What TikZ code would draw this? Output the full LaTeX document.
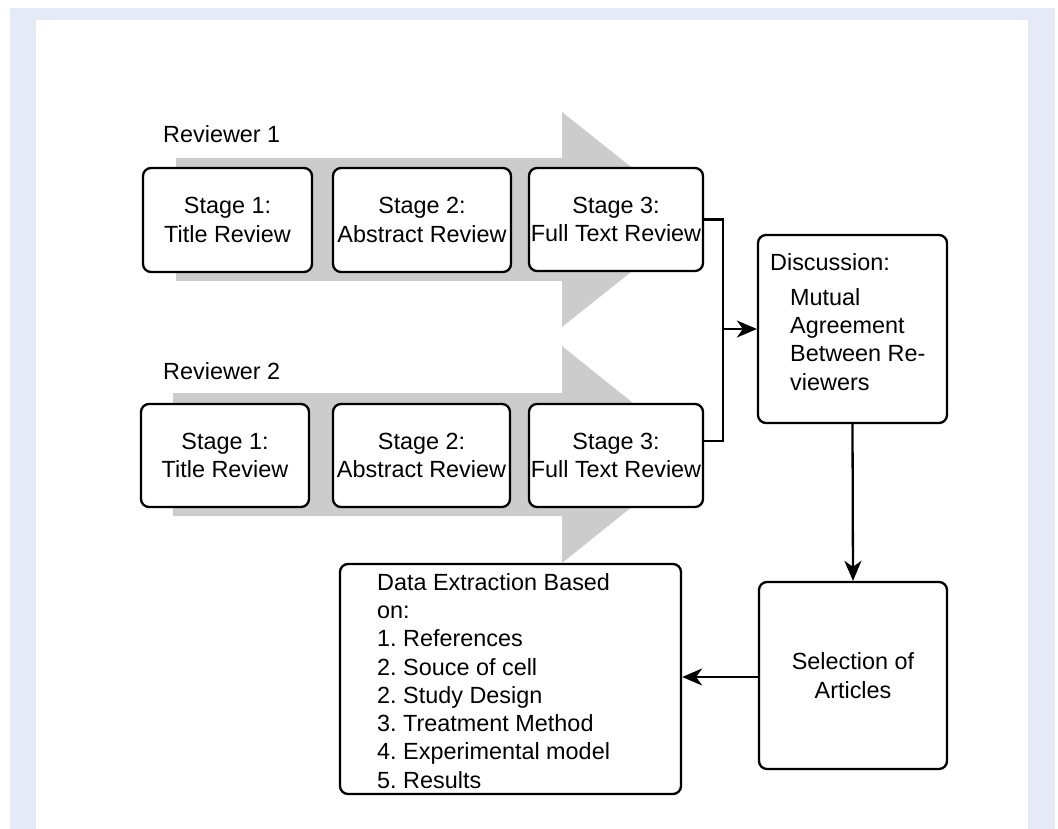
\documentclass[tikz,border=0pt]{standalone}
\usepackage{fontspec}
\setmainfont{Liberation Sans}
\usetikzlibrary{arrows.meta}
\definecolor{framebg}{RGB}{230,234,246}
\definecolor{flowgray}{RGB}{204,204,204}
\newcommand\diagfont{\frenchspacing\fontsize{23.4}{28.3}\selectfont}
\tikzset{
  box/.style={draw, line width=2.3pt, rounded corners=8pt, fill=white, inner sep=0pt, align=center, font=\diagfont},
  txt/.style={inner sep=0pt, align=left, font=\diagfont},
  conn/.style={line width=2.3pt},
  arr/.style={line width=2.3pt, -{Stealth[length=20pt,width=17pt,inset=6pt]}},
  band/.style={fill=flowgray, draw=none},
}
\begin{document}
\begin{tikzpicture}[x=1pt,y=-1pt]
\useasboundingbox (0,0) rectangle (1058,829);
% frame
\fill[framebg] (10,8) rectangle (1055,829);
\fill[white] (36,20) rectangle (1028,829);
% gray process arrows
\fill[band] (176,158) -- (562,158) -- (562,112) -- (697,219.5) -- (562,327) -- (562,281) -- (176,281) -- cycle;
\fill[band] (173,393) -- (562,393) -- (562,346) -- (697,454.5) -- (562,563) -- (562,516) -- (173,516) -- cycle;
% labels
\node[txt, anchor=base west] (r1) at (163,143) {Reviewer 1};
\node[txt, anchor=base west] (r2) at (163,379) {Reviewer 2};
% row 1
\node[box, minimum width=169, minimum height=104] (s11) at (227.5,220) {Stage 1:\\Title Review};
\node[box, minimum width=178, minimum height=104] (s12) at (422,220) {Stage 2:\\Abstract Review};
\node[box, minimum width=174, minimum height=103] (s13) at (616,219.5) {Stage 3:\\Full Text Review};
% row 2
\node[box, minimum width=168, minimum height=103] (s21) at (225,455.5) {Stage 1:\\Title Review};
\node[box, minimum width=177, minimum height=103] (s22) at (421.5,455.5) {Stage 2:\\Abstract Review};
\node[box, minimum width=174, minimum height=103] (s23) at (616,455.5) {Stage 3:\\Full Text Review};
% discussion
\node[box, minimum width=189, minimum height=188] (disc) at (852.5,329) {};
\node[txt, anchor=base west] (dh) at (770,270) {Discussion:};
\node[txt, anchor=north west] (db) at (790,288) {Mutual\\Agreement\\Between Re-\\viewers};
% selection
\node[box, minimum width=188, minimum height=187] (sel) at (853,675.5) {Selection of\\Articles};
% data extraction
\node[box, minimum width=341, minimum height=230] (data) at (510.5,679) {};
\node[txt, anchor=north west] (dt) at (377,573) {Data Extraction Based\\on:\\1. References\\2. Souce of cell\\2. Study Design\\3. Treatment Method\\4. Experimental model\\5. Results};
% connectors
\coordinate (jup) at (723,219.5);
\coordinate (jlo) at (723,441);
\coordinate (jmid) at (723,329);
\draw[conn] (s13.east) -- (jup) -- (jlo) -- (s23.east |- jlo);
\draw[arr] (jmid) -- (disc.west);
\draw[arr] (disc.south) -- (sel.north);
\draw[arr] (sel.west |- 0,677) -- (data.east |- 0,677);
\end{tikzpicture}
\end{document}
